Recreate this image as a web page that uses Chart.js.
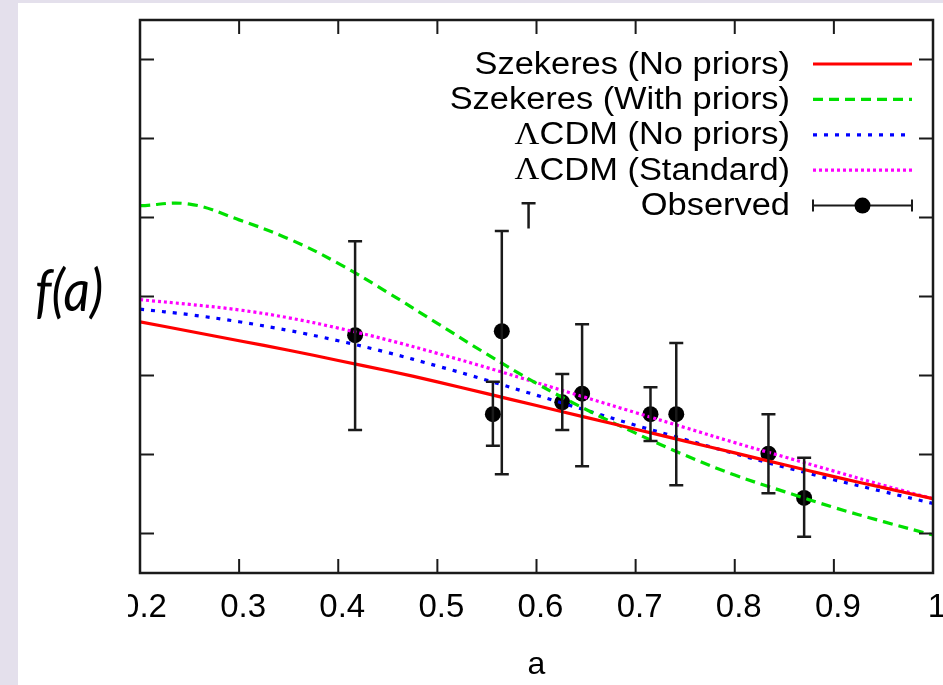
<!DOCTYPE html>
<html>
<head>
<meta charset="utf-8">
<title>f(a)</title>
<script src="https://cdn.jsdelivr.net/npm/chart.js@4.4.0/dist/chart.umd.min.js"></script>
<style>
  html, body { margin: 0; padding: 0; }
  body { width: 943px; height: 685px; background: #e4e0ec; position: relative; overflow: hidden; }
  #sheet { position: absolute; left: 18px; top: 3px; right: 0; bottom: 0; background: #fff; }
  #box { position: absolute; left: 128px; top: 3px; width: 815px; height: 682px; }
  #ylabel {
    position: absolute; left: 35px; top: 260px;
    font: italic 58px Lato, "Open Sans", sans-serif; color: #000; line-height: 1;
    transform: scaleX(0.89); transform-origin: left top;
  }
</style>
</head>
<body>
<div id="sheet"></div>
<div id="ylabel">f(a)</div>
<div id="box"><canvas id="fa-chart" width="815" height="682"></canvas></div>
<script>
// scale factor grid shared by the model curves
var aGrid = [0.20, 0.25, 0.30, 0.35, 0.40, 0.45, 0.50, 0.55, 0.60, 0.65, 0.70, 0.75, 0.80, 0.85, 0.90, 0.95, 1.00];

var szekNoPriors = [0.568, 0.556, 0.544, 0.532, 0.519, 0.506, 0.492, 0.477, 0.462, 0.447, 0.432, 0.417, 0.402, 0.387, 0.372, 0.358, 0.344];
var szekPriors   = [0.715, 0.717, 0.697, 0.673, 0.642, 0.605, 0.566, 0.527, 0.490, 0.457, 0.427, 0.399, 0.374, 0.353, 0.333, 0.315, 0.298];
var lcdmNoPriors = [0.584, 0.577, 0.568, 0.557, 0.544, 0.529, 0.512, 0.494, 0.475, 0.456, 0.437, 0.419, 0.401, 0.384, 0.368, 0.353, 0.338];
var lcdmStandard = [0.596, 0.590, 0.583, 0.573, 0.560, 0.545, 0.528, 0.510, 0.491, 0.472, 0.453, 0.434, 0.415, 0.397, 0.379, 0.361, 0.344];

// observed growth rate with error bars
var obsA    = [0.417, 0.556, 0.565, 0.626, 0.646, 0.715, 0.741, 0.834, 0.870];
var obsF    = [0.551, 0.451, 0.556, 0.466, 0.477, 0.451, 0.451, 0.401, 0.345];
var obsLow  = [0.431, 0.411, 0.375, 0.431, 0.385, 0.417, 0.361, 0.351, 0.296];
var obsHigh = [0.670, 0.492, 0.683, 0.502, 0.565, 0.485, 0.541, 0.451, 0.396];

// lone error-bar cap sitting above the data
var strayA = [0.592];
var strayTop = [0.718];
var strayBottom = [0.686];

var seriesLabels = ["Szekeres (No priors)", "Szekeres (With priors)", "\u039BCDM (No priors)", "\u039BCDM (Standard)", "Observed"];

var xTicks = [0.2, 0.3, 0.4, 0.5, 0.6, 0.7, 0.8, 0.9, 1];
var yTicks = [0.3, 0.4, 0.5, 0.6, 0.7, 0.8, 0.9];

var SANS = "'Liberation Sans', Arial, Helvetica, sans-serif";
var INK = "#1a1a1a";

function pts(xs, ys) {
    return xs.map(function (x, i) { return { x: x, y: ys[i] }; });
}

function curve(label, values, color, dash) {
    return {
        label: label,
        data: pts(aGrid, values),
        borderColor: color,
        backgroundColor: color,
        borderWidth: 3.2,
        borderDash: dash,
        borderCapStyle: "butt",
        pointRadius: 0,
        fill: false,
        tension: 0.4
    };
}

// frame with inward ticks, plus the error bars
var framePlugin = {
    id: "frame",
    afterDatasetsDraw: function (chart) {
        var ctx = chart.ctx, area = chart.chartArea;
        var xs = chart.scales.x, ys = chart.scales.y;
        var tick = 14, cap = 7;
        ctx.save();
        ctx.strokeStyle = INK;
        ctx.lineWidth = 2.5;

        ctx.beginPath();
        for (var i = 0; i < obsA.length; i++) {
            var px = xs.getPixelForValue(obsA[i]);
            var top = ys.getPixelForValue(obsHigh[i]);
            var bot = ys.getPixelForValue(obsLow[i]);
            ctx.moveTo(px, top); ctx.lineTo(px, bot);
            ctx.moveTo(px - cap, top); ctx.lineTo(px + cap, top);
            ctx.moveTo(px - cap, bot); ctx.lineTo(px + cap, bot);
        }
        for (var s = 0; s < strayA.length; s++) {
            var sx = xs.getPixelForValue(strayA[s]);
            var st = ys.getPixelForValue(strayTop[s]);
            ctx.moveTo(sx, st); ctx.lineTo(sx, ys.getPixelForValue(strayBottom[s]));
            ctx.moveTo(sx - cap, st); ctx.lineTo(sx + cap, st);
        }
        ctx.stroke();

        ctx.lineWidth = 2;
        ctx.beginPath();
        xTicks.forEach(function (v) {
            var px = xs.getPixelForValue(v);
            ctx.moveTo(px, area.bottom); ctx.lineTo(px, area.bottom - tick);
            ctx.moveTo(px, area.top); ctx.lineTo(px, area.top + tick);
        });
        yTicks.forEach(function (v) {
            var py = ys.getPixelForValue(v);
            ctx.moveTo(area.left, py); ctx.lineTo(area.left + tick, py);
            ctx.moveTo(area.right, py); ctx.lineTo(area.right - tick, py);
        });
        ctx.stroke();

        ctx.lineWidth = 2.5;
        ctx.strokeRect(area.left, area.top, area.right - area.left, area.bottom - area.top);
        ctx.restore();
    }
};

// gnuplot-style key: text right-aligned, sample to its right
var keyPlugin = {
    id: "key",
    afterDraw: function (chart) {
        var ctx = chart.ctx;
        var textRight = 662, lineL = 685, lineR = 784, rowTop = 61, rowGap = 35.4;
        var stretch = 1.11;
        ctx.save();
        chart.data.datasets.forEach(function (ds, i) {
            var y = rowTop + i * rowGap;
            var label = ds.label;
            ctx.save();
            ctx.translate(textRight, y + 1);
            ctx.scale(stretch, 1);
            ctx.fillStyle = "#000";
            ctx.textAlign = "right";
            ctx.textBaseline = "middle";
            ctx.font = "31px " + SANS;
            var lead = "";
            if (label.charAt(0) === "\u039B") { lead = "\u039B"; label = label.slice(1); }
            ctx.fillText(label, 0, 0);
            if (lead) {
                var w = ctx.measureText(label).width;
                ctx.font = "31px 'Liberation Serif', 'Times New Roman', serif";
                ctx.fillText(lead, -w, 0);
            }
            ctx.restore();

            if (ds.showLine === false) {
                ctx.strokeStyle = INK;
                ctx.lineWidth = 2;
                ctx.beginPath();
                ctx.moveTo(lineL, y); ctx.lineTo(lineR, y);
                ctx.moveTo(lineL, y - 6); ctx.lineTo(lineL, y + 6);
                ctx.moveTo(lineR, y - 6); ctx.lineTo(lineR, y + 6);
                ctx.stroke();
                ctx.fillStyle = "#000";
                ctx.beginPath();
                ctx.arc((lineL + lineR) / 2, y, ds.pointRadius, 0, Math.PI * 2);
                ctx.fill();
            } else {
                ctx.strokeStyle = ds.borderColor;
                ctx.lineWidth = ds.borderWidth;
                ctx.setLineDash(ds.borderDash || []);
                ctx.beginPath();
                ctx.moveTo(lineL, y); ctx.lineTo(lineR, y);
                ctx.stroke();
                ctx.setLineDash([]);
            }
        });
        ctx.restore();
    }
};

var chartData = {
    datasets: [
        curve(seriesLabels[0], szekNoPriors, "#ff0000", []),
        curve(seriesLabels[1], szekPriors, "#00e000", [10, 6]),
        curve(seriesLabels[2], lcdmNoPriors, "#0000ff", [4, 7]),
        curve(seriesLabels[3], lcdmStandard, "#ff00ff", [3, 3]),
        {
            label: seriesLabels[4],
            data: pts(obsA, obsF),
            showLine: false,
            pointRadius: 8,
            pointBackgroundColor: "#000",
            pointBorderWidth: 0
        }
    ]
};

var config = {
    type: "line",
    data: chartData,
    plugins: [framePlugin, keyPlugin],
    options: {
        responsive: false,
        animation: false,
        layout: { padding: { left: 12, right: 10, top: 17, bottom: 0 } },
        plugins: { legend: { display: false }, tooltip: { enabled: false } },
        scales: {
            x: {
                type: "linear",
                min: 0.2,
                max: 1.0,
                grid: { display: false, drawTicks: false },
                border: { display: false },
                afterBuildTicks: function (scale) {
                    scale.ticks = xTicks.map(function (v) { return { value: v }; });
                },
                afterFit: function (scale) {
                    scale.height = 112;
                    scale.paddingLeft = 0;
                    scale.paddingRight = 0;
                },
                ticks: {
                    color: "#000",
                    padding: 15,
                    labelOffset: 4,
                    maxRotation: 0,
                    autoSkip: false,
                    font: { family: SANS, size: 33 },
                    callback: function (v) { return String(v); }
                },
                title: {
                    display: true,
                    text: "a",
                    color: "#000",
                    padding: { top: 0, bottom: 1 },
                    font: { family: SANS, size: 32 }
                }
            },
            y: {
                type: "linear",
                min: 0.25,
                max: 0.95,
                display: false
            }
        }
    }
};

var faChart = new Chart(document.getElementById("fa-chart"), config);
</script>
</body>
</html>
